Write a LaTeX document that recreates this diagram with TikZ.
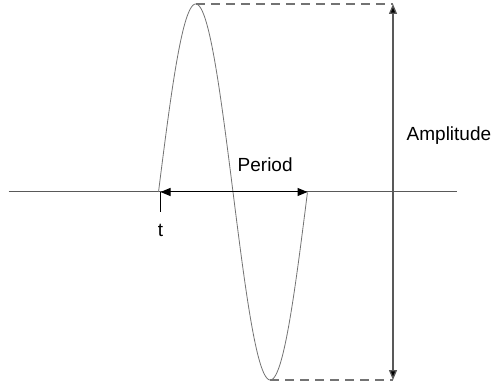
\documentclass[tikz,border=0pt]{standalone}
\usepackage{fontspec}
\setmainfont{Liberation Sans}
\usetikzlibrary{arrows.meta}
\begin{document}
\begin{tikzpicture}[x=1pt,y=-1pt,
  lbl/.style={inner sep=0pt,font=\fontsize{19}{22}\selectfont,text=black},
  axisline/.style={draw=black!65,line width=1pt},
  wave/.style={draw=black!55,line width=0.8pt},
  guide/.style={draw=black!55,line width=1.1pt,dash pattern=on 9pt off 6pt},
  dim/.style={draw=black,line width=1pt,{Triangle[length=10pt,width=8pt]}-{Triangle[length=10pt,width=8pt]}},
  ampdim/.style={draw=black!65,line width=1.3pt,{Triangle[length=10pt,width=8pt,fill=black]}-{Triangle[length=10pt,width=8pt,fill=black]}}]
\useasboundingbox (0,0) rectangle (493,385);
% key points
\coordinate (axL) at (8.5,192);
\coordinate (axR) at (456.5,192);
\coordinate (s0) at (158.5,192);
\coordinate (s1) at (307.5,192);
\coordinate (pk) at (195.75,4);
\coordinate (tr) at (270.25,380);
\coordinate (aT) at (393,4);
\coordinate (aB) at (393,380);
\coordinate (pL) at (160.5,192);
\coordinate (pR) at (307.5,192);
\coordinate (tk0) at (160.5,192);
\coordinate (tk1) at (160.5,212);
% axis
\draw[axisline] (axL) -- (axR);
% sine wave
\draw[wave] plot[domain=0:1,samples=160,smooth] ({158.5+149*\x},{192-188*sin(360*\x)});
% dashed guides
\draw[guide] (pk) -- (aT);
\draw[guide] (tr) -- (aB);
% amplitude arrow
\draw[ampdim] (aT) -- (aB);
% period arrow
\draw[dim] (pL) -- (pR);
% tick
\draw[draw=black,line width=1pt] (tk0) -- (tk1);
% labels
\node[lbl,anchor=base west] (period) at (237.5,171.5) {Period};
\node[lbl,anchor=base west] (amp) at (406.5,141) {Amplitude};
\node[lbl,anchor=base] (t) at (160.5,236.5) {t};
\end{tikzpicture}
\end{document}
